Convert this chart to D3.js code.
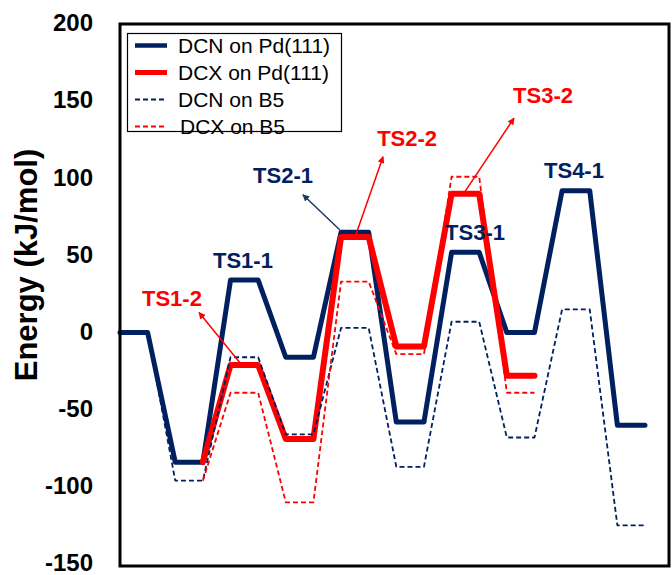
<!DOCTYPE html>
<html>
<head>
<meta charset="utf-8">
<script src="https://cdn.jsdelivr.net/npm/d3@7"></script>
<style>
  html, body { margin: 0; padding: 0; background: #fff; }
  svg { display: block; font-family: "Liberation Sans", Arial, sans-serif; }
</style>
</head>
<body>
<svg id="chart" width="672" height="575"></svg>
<script>
// Energy levels (kJ/mol) of each state along the reaction coordinate.
// Each state is drawn as a short plateau; DCX paths branch off after state 1.
const dcnPd = [0, -84, 34, -16, 65, -58, 52, 0, 92, -60];
const dcxPd = [null, -84, -21, -69, 62, -9, 90, -28];
const dcnB5 = [0, -96, -16, -66, 3, -87, 7, -68, 15, -125];
const dcxB5 = [null, -96, -39, -110, 33, -14, 101, -39];

const seriesNames = ["DCN on Pd(111)", "DCX on Pd(111)", "DCN on B5", "DCX on B5"];
const yTicks = [-150, -100, -50, 0, 50, 100, 150, 200];

// Transition-state labels: text, anchor position (step index, energy), optional arrow
const tsLabels = ["TS1-1", "TS1-2", "TS2-1", "TS2-2", "TS3-1", "TS3-2", "TS4-1"];
const tsLabelAt = [[4.45, 47], [1.88, 22.5], [5.9, 102], [10.39, 126], [12.85, 65.5], [15.31, 154], [16.43, 105.5]];
const tsArrowFrom = [null, [4.34, -19.5], [7.96, 66.5], [8.54, 63.5], null, [12.49, 91.5], null];
const tsArrowTo = [null, [2.86, 13], [6.62, 89.3], [9.52, 114], null, [14.26, 139], null];
const tsGroup = [0, 1, 0, 1, 0, 1, 0];

const navy = "#002060";
const red = "#FF0000";

const svg = d3.select("#chart");
const plot = { left: 120, right: 669, top: 24, bottom: 566 };

const x = d3.scaleLinear().domain([0, 19]).range([plot.left, 645]);
const y = d3.scaleLinear().domain([-150, 200]).range([plot.bottom - 2, plot.top]);

// Convert a list of state energies into plateau points
function toPoints(levels) {
  const pts = [];
  let started = false;
  levels.forEach((v, i) => {
    if (v === null) return;
    if (!started && i > 0 && levels[i - 1] === null) {
      // branch point: only the right end of the shared plateau
      pts.push([2 * i + 1, v]);
    } else {
      pts.push([2 * i, v]);
      pts.push([2 * i + 1, v]);
    }
    started = true;
  });
  return pts;
}

const line = d3.line().x(d => x(d[0])).y(d => y(d[1]));

const series = [
  { data: dcnPd, color: navy, width: 5, dash: null },
  { data: dcxPd, color: red, width: 6, dash: null },
  { data: dcnB5, color: navy, width: 1.8, dash: "5,3" },
  { data: dcxB5, color: red, width: 1.8, dash: "5,3" }
];

// Y axis labels (plain hyphen for negatives)
const yAxis = d3.axisLeft(y).tickValues(yTicks).tickSize(0).tickPadding(0)
  .tickFormat(d => String(d));
const gy = svg.append("g").attr("transform", `translate(93,0)`).call(yAxis);
gy.select(".domain").remove();
gy.selectAll("text")
  .attr("dy", "0.28em")
  .attr("font-size", 24)
  .attr("font-weight", "bold")
  .attr("fill", "#000")
  .attr("font-family", "'Liberation Sans', Arial, sans-serif");

// Y axis title
svg.append("text")
  .attr("transform", `translate(37,265) rotate(-90)`)
  .attr("text-anchor", "middle")
  .attr("font-size", 31)
  .attr("font-weight", "bold")
  .attr("fill", "#000")
  .text("Energy (kJ/mol)");

// Energy profile lines (solid first, dashed on top)
const gLines = svg.append("g");
series.forEach(s => {
  gLines.append("path")
    .datum(toPoints(s.data))
    .attr("d", line)
    .attr("fill", "none")
    .attr("stroke", s.color)
    .attr("stroke-width", s.width)
    .attr("stroke-linejoin", "round")
    .attr("stroke-linecap", s.dash ? "butt" : "round")
    .attr("stroke-dasharray", s.dash);
});

// Arrow markers
const defs = svg.append("defs");
[["arrNavy", "#1F3864"], ["arrRed", red]].forEach(([id, c]) => {
  defs.append("marker")
    .attr("id", id)
    .attr("viewBox", "0 0 10 10")
    .attr("refX", 9).attr("refY", 5)
    .attr("markerWidth", 7).attr("markerHeight", 7)
    .attr("markerUnits", "userSpaceOnUse")
    .attr("orient", "auto")
    .append("path")
    .attr("d", "M0,0 L10,5 L0,10 Z")
    .attr("fill", c);
});

// Transition-state annotations
tsLabels.forEach((t, i) => {
  const c = tsGroup[i] === 0 ? navy : red;
  if (tsArrowFrom[i]) {
    svg.append("line")
      .attr("x1", x(tsArrowFrom[i][0])).attr("y1", y(tsArrowFrom[i][1]))
      .attr("x2", x(tsArrowTo[i][0])).attr("y2", y(tsArrowTo[i][1]))
      .attr("stroke", tsGroup[i] === 0 ? "#1F3864" : red)
      .attr("stroke-width", 1.5)
      .attr("marker-end", `url(#${tsGroup[i] === 0 ? "arrNavy" : "arrRed"})`);
  }
  svg.append("text")
    .attr("x", x(tsLabelAt[i][0]))
    .attr("y", y(tsLabelAt[i][1]) + 8)
    .attr("text-anchor", "middle")
    .attr("font-size", 22)
    .attr("font-weight", "bold")
    .attr("fill", c)
    .text(t);
});

// Plot frame
svg.append("rect")
  .attr("x", plot.left).attr("y", plot.top)
  .attr("width", plot.right - plot.left).attr("height", plot.bottom - plot.top)
  .attr("fill", "none").attr("stroke", "#000").attr("stroke-width", 3);

// Legend
const lg = svg.append("g");
lg.append("rect")
  .attr("x", 127.5).attr("y", 33.5).attr("width", 214).attr("height", 98)
  .attr("fill", "#fff").attr("stroke", "#000").attr("stroke-width", 1.2);
seriesNames.forEach((name, i) => {
  const s = series[i];
  const cy = 45.5 + i * 27;
  lg.append("line")
    .attr("x1", 135).attr("x2", 167).attr("y1", cy).attr("y2", cy)
    .attr("stroke", s.color)
    .attr("stroke-width", s.dash ? 1.8 : (i === 1 ? 5 : 4.5))
    .attr("stroke-dasharray", s.dash);
  lg.append("text")
    .attr("x", i === 3 ? 180 : 178).attr("y", cy + 7)
    .attr("font-size", 21)
    .attr("fill", "#000")
    .text(name);
});
</script>
</body>
</html>
